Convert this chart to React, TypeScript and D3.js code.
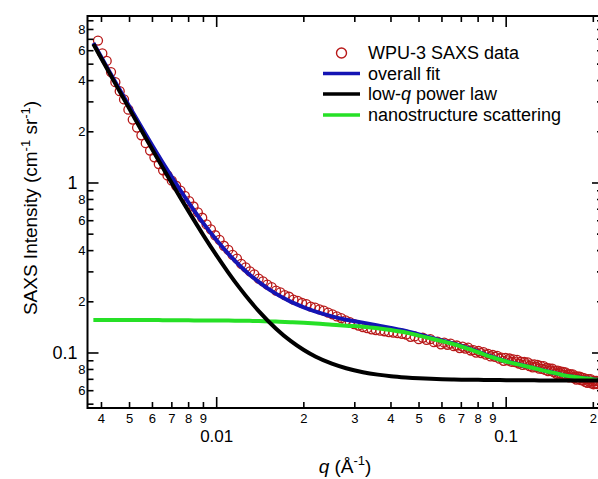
import React from "react";
import * as d3 from "d3";

// ---------- data ----------
const dataQ = [
  0.00389, 0.004027, 0.004169, 0.004315, 0.004467, 0.004624, 0.004786, 0.004955, 0.005129, 0.005309,
  0.005495, 0.005689, 0.005888, 0.006095, 0.00631, 0.006531, 0.006761, 0.006998, 0.007244, 0.007499,
  0.007762, 0.008035, 0.008318, 0.00861, 0.008913, 0.009226, 0.00955, 0.009886, 0.01023, 0.01059,
  0.01097, 0.01135, 0.01175, 0.01216, 0.01259, 0.01303, 0.01349, 0.01396, 0.01445, 0.01496,
  0.01549, 0.01603, 0.0166, 0.01718, 0.01778, 0.01841, 0.01906, 0.01972, 0.02042, 0.02114,
  0.02188, 0.02265, 0.02344, 0.02427, 0.02512, 0.026, 0.02692, 0.02786, 0.02884, 0.02985,
  0.0309, 0.03199, 0.03311, 0.03428, 0.03548, 0.03673, 0.03802, 0.03936, 0.04074, 0.04217,
  0.04365, 0.04519,
  0.0467, 0.0483, 0.0499, 0.0515, 0.0531, 0.0547, 0.0563, 0.0579, 0.0595, 0.0611,
  0.0627, 0.0643, 0.0659, 0.0675, 0.0691, 0.0707, 0.0723, 0.0739, 0.0755, 0.0771,
  0.0787, 0.0803, 0.0819, 0.0835, 0.0851, 0.0867, 0.0883, 0.0899, 0.0915, 0.0931,
  0.0947, 0.0963, 0.0979, 0.0995, 0.1011, 0.1027, 0.1043, 0.1059, 0.1075, 0.1091,
  0.1107, 0.1123, 0.1139, 0.1155, 0.1171, 0.1187, 0.1203, 0.1219, 0.1235, 0.1251,
  0.1267, 0.1283, 0.1299, 0.1315, 0.1331, 0.1347, 0.1363, 0.1379, 0.1395, 0.1411,
  0.1427, 0.1443, 0.1459, 0.1475, 0.1491, 0.1507, 0.1523, 0.1539, 0.1555, 0.1571,
  0.1587, 0.1603, 0.1619, 0.1635, 0.1651, 0.1667, 0.1683, 0.1699, 0.1715, 0.1731,
  0.1747, 0.1763, 0.1779, 0.1795, 0.1811, 0.1827, 0.1843, 0.1859, 0.1875, 0.1891,
  0.1907, 0.1923, 0.1939, 0.1955, 0.1971, 0.1987, 0.2003, 0.2019, 0.2035, 0.2051,
  0.2067, 0.2083,
];

const dataI = [
  6.88, 5.785, 5.221, 4.491, 3.92, 3.47, 3.102, 2.698, 2.36, 2.118,
  1.907, 1.714, 1.552, 1.415, 1.292, 1.188, 1.107, 1.032, 0.9632, 0.9008,
  0.8397, 0.7826, 0.7273, 0.6724, 0.6245, 0.5708, 0.5339, 0.4926, 0.463, 0.4273,
  0.4037, 0.3773, 0.3586, 0.3341, 0.3193, 0.3018, 0.2902, 0.2739, 0.264, 0.2521,
  0.2443, 0.2329, 0.2271, 0.2191, 0.2142, 0.2059, 0.2025, 0.1968, 0.1937, 0.1875,
  0.1851, 0.1805, 0.1774, 0.1726, 0.1689, 0.1642, 0.1604, 0.1555, 0.1517, 0.1479,
  0.1449, 0.142, 0.1399, 0.1378, 0.1365, 0.1353, 0.1342, 0.1328, 0.1318, 0.1307,
  0.1298, 0.1284,
  0.1244, 0.1252, 0.1206, 0.1229, 0.1193, 0.1205, 0.1157, 0.1165, 0.1124, 0.115,
  0.1118, 0.1134, 0.1096, 0.1107, 0.1069, 0.1091, 0.1062, 0.1074, 0.1034, 0.104,
  0.1005, 0.1027, 0.0999, 0.1011, 0.0977, 0.0987, 0.0954, 0.0973, 0.0949, 0.0962,
  0.0926, 0.0938, 0.0899, 0.0936, 0.0904, 0.0928, 0.0888, 0.0917, 0.0883, 0.0911,
  0.0866, 0.0888, 0.0851, 0.0885, 0.0857, 0.0881, 0.0838, 0.0857, 0.0822, 0.0856,
  0.0827, 0.085, 0.0809, 0.0841, 0.0806, 0.0836, 0.0795, 0.0816, 0.0783, 0.0813,
  0.0789, 0.081, 0.0771, 0.0788, 0.0755, 0.0787, 0.076, 0.0778, 0.0748, 0.0773,
  0.0745, 0.0769, 0.073, 0.075, 0.0719, 0.075, 0.0728, 0.0748, 0.0711, 0.0729,
  0.0698, 0.0729, 0.0704, 0.0725, 0.0692, 0.0717, 0.069, 0.0712, 0.0677, 0.07,
  0.0668, 0.0701, 0.0678, 0.0702, 0.0662, 0.0681, 0.0655, 0.0686, 0.0661, 0.0685,
  0.0657, 0.068,
];

const fitQ = [
  0.00375, 0.0039, 0.0042, 0.0045, 0.005, 0.0055, 0.006, 0.0065, 0.007, 0.0075,
  0.008, 0.009, 0.01, 0.011, 0.012, 0.013, 0.014, 0.016, 0.018, 0.02,
  0.022, 0.025, 0.028, 0.032, 0.036, 0.04, 0.045, 0.05, 0.055, 0.06,
  0.065, 0.07, 0.08, 0.09, 0.1, 0.11, 0.12, 0.13, 0.14, 0.15,
  0.16, 0.17, 0.18, 0.19, 0.2, 0.21,
];

const overallFit = [
  6.658, 5.908, 4.721, 3.837, 2.806, 2.124, 1.656, 1.325, 1.083, 0.9032,
  0.7671, 0.5787, 0.4601, 0.3815, 0.3272, 0.2889, 0.2611, 0.2234, 0.2005, 0.1856,
  0.1751, 0.1642, 0.157, 0.1509, 0.1453, 0.1404, 0.1348, 0.1286, 0.1232, 0.1184,
  0.1142, 0.1099, 0.1015, 0.0944, 0.0893, 0.0859, 0.0828, 0.0801, 0.0777, 0.0756,
  0.0736, 0.0724, 0.0716, 0.0707, 0.0699, 0.0694,
];

const powerLaw = [
  6.571, 5.821, 4.634, 3.75, 2.719, 2.037, 1.569, 1.238, 0.9964, 0.8165,
  0.6805, 0.4923, 0.3738, 0.2953, 0.2415, 0.2034, 0.1757, 0.1394, 0.1177, 0.1041,
  0.095, 0.0865, 0.0813, 0.0771, 0.0746, 0.073, 0.0718, 0.071, 0.0705, 0.0701,
  0.0699, 0.0697, 0.0695, 0.0693, 0.0692, 0.0691, 0.0691, 0.069, 0.069, 0.069,
  0.069, 0.069, 0.069, 0.069, 0.069, 0.069,
];

const nanostructure = [
  0.1563, 0.1563, 0.1563, 0.1563, 0.1563, 0.1563, 0.1563, 0.156, 0.1558, 0.1557,
  0.1556, 0.1554, 0.1553, 0.1552, 0.1547, 0.1545, 0.1543, 0.153, 0.1518, 0.1505,
  0.1491, 0.1467, 0.1447, 0.1428, 0.1397, 0.1364, 0.132, 0.1266, 0.1217, 0.1173,
  0.1133, 0.1092, 0.101, 0.0941, 0.0891, 0.0857, 0.0827, 0.08, 0.0776, 0.0756,
  0.0736, 0.0724, 0.0716, 0.0707, 0.0699, 0.0694,
];

// ---------- ticks ----------
const xMajorTicks = [0.01, 0.1];
const xMajorLabels = ["0.01", "0.1"];
const xMinorTicks = [0.004, 0.005, 0.006, 0.007, 0.008, 0.009, 0.02, 0.03, 0.04, 0.05, 0.06, 0.07, 0.08, 0.09, 0.2];
const xMinorLabels = ["4", "5", "6", "7", "8", "9", "2", "3", "4", "5", "6", "7", "8", "9", "2"];

const yMajorTicks = [0.1, 1];
const yMajorLabels = ["0.1", "1"];
const yMinorTicks = [0.05, 0.06, 0.07, 0.08, 0.09, 0.2, 0.3, 0.4, 0.5, 0.6, 0.7, 0.8, 0.9, 2, 3, 4, 5, 6, 7, 8, 9];
const yMinorLabels = ["", "6", "", "8", "", "2", "", "4", "", "6", "", "8", "", "2", "", "4", "", "6", "", "8", ""];

const legendLabels = ["WPU-3 SAXS data", "overall fit", "low-q power law", "nanostructure scattering"];

const FONT = "'Liberation Sans', Arial, Helvetica, sans-serif";
const W = 598;
const H = 479;
const L = 87.5, R = 603, T = 16, B = 408;

export default function App() {
  const x = d3.scaleLog().domain([0.003579, 0.216]).range([L, R]);
  const y = d3.scaleLog().domain([0.04747, 9.6]).range([B, T]);

  const line = d3
    .line<[number, number]>()
    .x((d) => x(d[0]))
    .y((d) => y(d[1]))
    .curve(d3.curveMonotoneX);

  const pts = (vals: number[]) => fitQ.map((q, i) => [q, vals[i]] as [number, number]);

  const minorLen = 6;
  const majorLen = 11;

  const dataColor = "#b81818";
  const blue = "#1414b4";
  const green = "#26e026";

  return (
    <svg
      width={W}
      height={H}
      style={{ position: "absolute", left: 0, top: 0, background: "#fff" }}
      fontFamily={FONT}
    >
      <rect x={0} y={0} width={W} height={H} fill="#fff" />
      <defs>
        <clipPath id="plotclip">
          <rect x={L} y={T} width={R - L} height={B - T} />
        </clipPath>
      </defs>

      <g clipPath="url(#plotclip)">
        {dataQ.map((q, i) => (
          <circle key={i} cx={x(q)} cy={y(dataI[i])} r={4.5} fill="none" stroke={dataColor} strokeWidth={1.3} />
        ))}
        <path d={line(pts(overallFit)) || ""} fill="none" stroke={blue} strokeWidth={4} />
        <path d={line(pts(nanostructure)) || ""} fill="none" stroke={green} strokeWidth={4} />
        <path d={line(pts(powerLaw)) || ""} fill="none" stroke="#000" strokeWidth={4} />
      </g>

      {/* frame */}
      <rect x={L} y={T} width={R - L} height={B - T} fill="none" stroke="#000" strokeWidth={2} />

      {/* x ticks bottom & top */}
      {xMinorTicks.map((t, i) => (
        <g key={"xm" + i}>
          <line x1={x(t)} x2={x(t)} y1={B} y2={B - minorLen} stroke="#000" strokeWidth={1.6} />
          <line x1={x(t)} x2={x(t)} y1={T} y2={T + minorLen} stroke="#000" strokeWidth={1.6} />
          <text x={x(t)} y={422.5} fontSize={13} textAnchor="middle" fill="#000">
            {xMinorLabels[i]}
          </text>
        </g>
      ))}
      {xMajorTicks.map((t, i) => (
        <g key={"xM" + i}>
          <line x1={x(t)} x2={x(t)} y1={B} y2={B - majorLen} stroke="#000" strokeWidth={1.6} />
          <line x1={x(t)} x2={x(t)} y1={T} y2={T + majorLen} stroke="#000" strokeWidth={1.6} />
          <text x={x(t)} y={442} fontSize={17} textAnchor="middle" fill="#000">
            {xMajorLabels[i]}
          </text>
        </g>
      ))}

      {/* y ticks left & right */}
      {yMinorTicks.map((t, i) => (
        <g key={"ym" + i}>
          <line x1={L} x2={L + minorLen} y1={y(t)} y2={y(t)} stroke="#000" strokeWidth={1.6} />
          <line x1={R} x2={R - minorLen} y1={y(t)} y2={y(t)} stroke="#000" strokeWidth={1.6} />
          {yMinorLabels[i] ? (
            <text x={85.5} y={y(t)} dy="0.35em" fontSize={13} textAnchor="end" fill="#000">
              {yMinorLabels[i]}
            </text>
          ) : null}
        </g>
      ))}
      {yMajorTicks.map((t, i) => (
        <g key={"yM" + i}>
          <line x1={L} x2={L + majorLen} y1={y(t)} y2={y(t)} stroke="#000" strokeWidth={1.6} />
          <line x1={R} x2={R - majorLen} y1={y(t)} y2={y(t)} stroke="#000" strokeWidth={1.6} />
          <text x={77.5} y={y(t)} dy="0.35em" fontSize={18} textAnchor="end" fill="#000">
            {yMajorLabels[i]}
          </text>
        </g>
      ))}

      {/* axis titles */}
      <text transform="translate(37,208) rotate(-90)" fontSize={19} textAnchor="middle" fill="#000">
        <tspan>SAXS Intensity (cm</tspan>
        <tspan dy={-7} fontSize={13}>-1</tspan>
        <tspan dy={7}> sr</tspan>
        <tspan dy={-7} fontSize={13}>-1</tspan>
        <tspan dy={7}>)</tspan>
      </text>
      <text x={345} y={473} fontSize={19} textAnchor="middle" fill="#000">
        <tspan fontStyle="italic">q</tspan>
        <tspan> (Å</tspan>
        <tspan dy={-8} fontSize={13}>-1</tspan>
        <tspan dy={8}>)</tspan>
      </text>

      {/* legend */}
      <g fontSize={18} fill="#000">
        <circle cx={341.5} cy={53} r={5} fill="none" stroke={dataColor} strokeWidth={1.4} />
        <text x={368} y={59}>{legendLabels[0]}</text>
        <line x1={323} x2={360} y1={73.5} y2={73.5} stroke={blue} strokeWidth={3.5} />
        <text x={368} y={79.5}>{legendLabels[1]}</text>
        <line x1={323} x2={360} y1={94} y2={94} stroke="#000" strokeWidth={3.5} />
        <text x={368} y={100}>
          <tspan>low-</tspan>
          <tspan fontStyle="italic">q</tspan>
          <tspan> power law</tspan>
        </text>
        <line x1={323} x2={360} y1={115} y2={115} stroke={green} strokeWidth={3.5} />
        <text x={368} y={121}>{legendLabels[3]}</text>
      </g>
    </svg>
  );
}
